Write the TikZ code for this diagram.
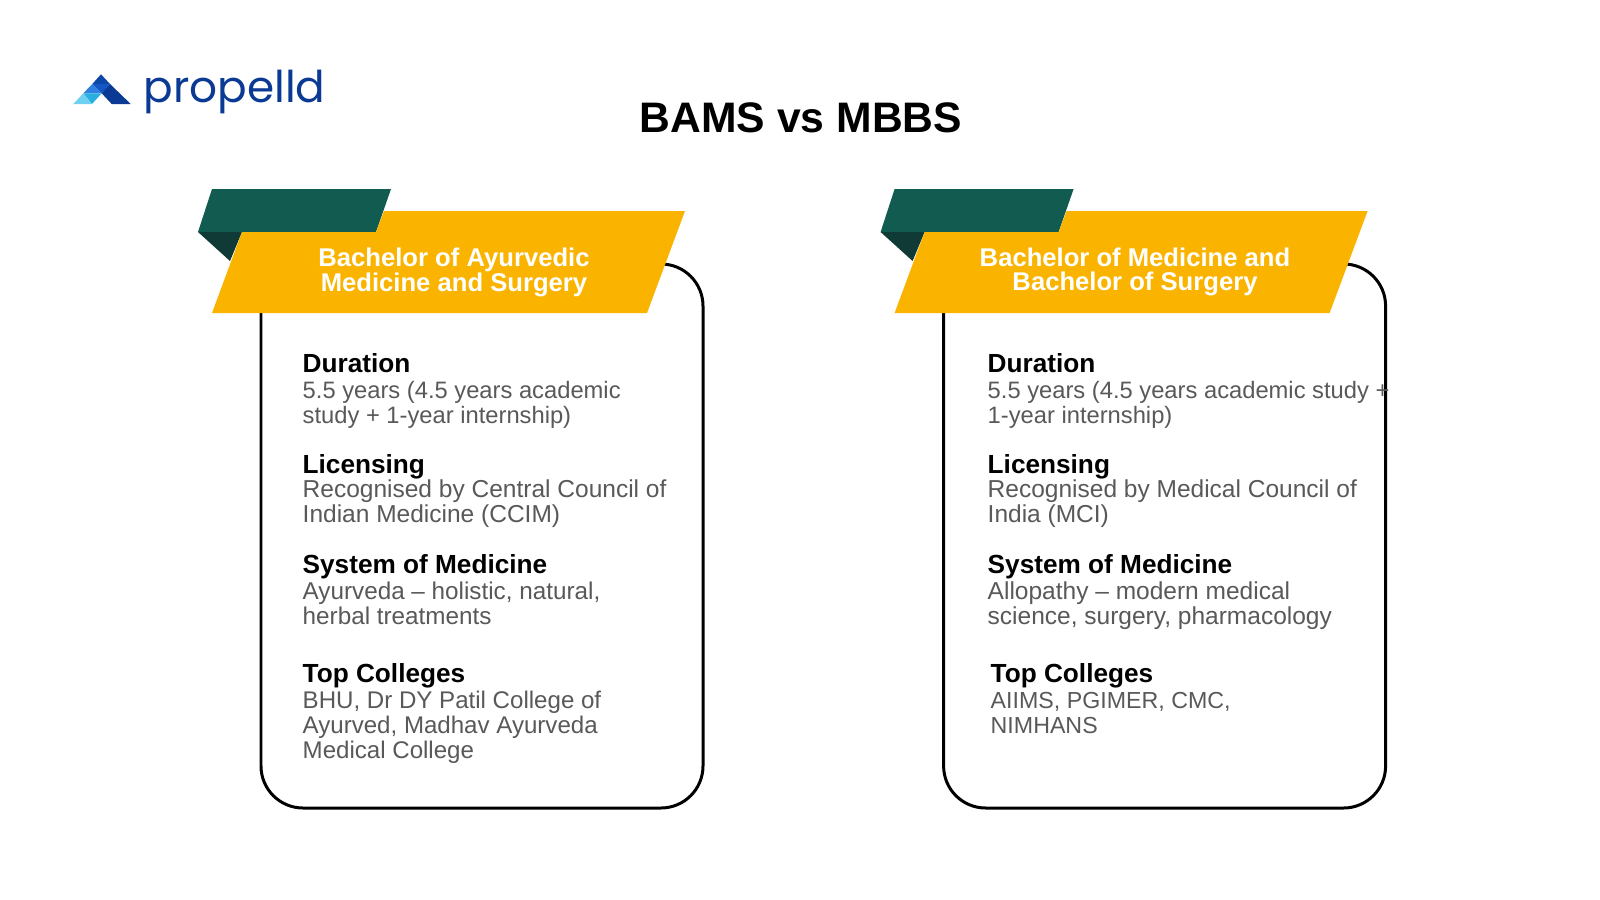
\documentclass[tikz,border=0pt]{standalone}
\usepackage{fontspec}
\setmainfont{Liberation Sans}
\newfontfamily\logofont{Poppins}
\definecolor{bannerYellow}{HTML}{FAB400}
\definecolor{bannerGreen}{HTML}{125B50}
\definecolor{foldGreen}{HTML}{0F3A35}
\definecolor{bodyGrey}{HTML}{595959}
\definecolor{logoBlue}{HTML}{0B3A94}
\definecolor{logoTop}{HTML}{0D47A8}
\definecolor{logoMid}{HTML}{1257C4}
\definecolor{logoBright}{HTML}{2F80E0}
\definecolor{logoCyan}{HTML}{28AEE0}
\definecolor{logoSky}{HTML}{6FD0F2}
\tikzset{
    card/.style={draw=black, line width=0.85pt, rounded corners=0.42cm},
    heading/.style={anchor=base west, inner sep=0pt, font=\bfseries\fontsize{7.45}{7.45}\selectfont},
    detail/.style={anchor=base west, inner sep=0pt, align=left, text=bodyGrey, font=\fontsize{#1}{7.05}\selectfont},
    detail/.default=6.97,
    banner/.style={inner sep=0pt, align=center, text=white, font=\bfseries\fontsize{7.29}{7.05}\selectfont},
}
\begin{document}
\begin{tikzpicture}[x=0.01cm, y=-0.01cm]
    \useasboundingbox (0, 0) rectangle (1600, 900);
    \fill[white] (0, 0) rectangle (1600, 900);
    % Logo
    \fill[logoTop] (101, 74.3) -- (110, 84) -- (92.3, 84) -- cycle;
    \fill[logoMid] (92.3, 84) -- (110, 84) -- (101.7, 93.3) -- cycle;
    \fill[logoBright] (92.3, 84) -- (101.7, 93.3) -- (83.3, 93.3) -- cycle;
    \fill[logoBlue] (110, 84) -- (130.7, 104) -- (111.7, 104) -- (101.7, 93.3) -- cycle;
    \fill[logoCyan] (83.3, 93.3) -- (101.7, 93.3) -- (92, 104) -- cycle;
    \fill[logoSky] (83.3, 93.3) -- (92, 104) -- (73.3, 104) -- cycle;
    \node[inner sep=0pt, anchor=base west, text=logoBlue, font=\logofont\fontsize{12.45}{12.45}\selectfont] (logoText) at (143, 102) {propelld};
    % Title
    \node[inner sep=0pt, font=\bfseries\fontsize{12.13}{12.13}\selectfont] (title) at (801, 118) {BAMS vs MBBS};
    % Cards and banners
    \foreach \x/\id in {0/Left, 682.6/Right} {
            \draw[card] (647+\x, 264) -- (703+\x, 264) -- (703+\x, 808) -- (261+\x, 808) -- (261+\x, 313);
            \fill[bannerGreen] (212+\x, 189) -- (391+\x, 189) -- (376+\x, 232) -- (198+\x, 232) -- cycle;
            \fill[foldGreen] (198+\x, 232) -- (242+\x, 232) -- (230+\x, 261) -- cycle;
            \fill[bannerYellow] (242+\x, 232) -- (376+\x, 232) -- (384+\x, 211) -- (685+\x, 211) -- (647+\x, 313) -- (212+\x, 313) -- cycle;
        }
    \node[banner] (bannerLeft) at (454, 272.5) {Bachelor of Ayurvedic\\Medicine and Surgery};
    \node[banner] (bannerRight) at (1135, 272) {Bachelor of Medicine and\\Bachelor of Surgery};
    % Left card
    \node[heading] (durationLeft) at (302, 372) {Duration};
    \node[detail=6.75] (durationTextLeft) at (302, 423) {5.5 years (4.5 years academic\\study + 1-year internship)};
    \node[heading] (licensingLeft) at (302, 473) {Licensing};
    \node[detail] (licensingTextLeft) at (302, 522) {Recognised by Central Council of\\Indian Medicine (CCIM)};
    \node[heading] (systemLeft) at (302, 573) {System of Medicine};
    \node[detail=6.9] (systemTextLeft) at (302, 624) {Ayurveda – holistic, natural,\\herbal treatments};
    \node[heading] (collegesLeft) at (302, 682) {Top Colleges};
    \node[detail=6.85] (collegesTextLeft) at (302, 758) {BHU, Dr DY Patil College of\\Ayurved, Madhav Ayurveda\\Medical College};
    % Right card
    \node[heading] (durationRight) at (987, 372) {Duration};
    \node[detail=6.75] (durationTextRight) at (987, 423) {5.5 years (4.5 years academic study +\\1-year internship)};
    \node[heading] (licensingRight) at (987, 473) {Licensing};
    \node[detail] (licensingTextRight) at (987, 522) {Recognised by Medical Council of\\India (MCI)};
    \node[heading] (systemRight) at (987, 573) {System of Medicine};
    \node[detail] (systemTextRight) at (987, 624) {Allopathy – modern medical\\science, surgery, pharmacology};
    \node[heading] (collegesRight) at (990, 682) {Top Colleges};
    \node[detail=6.6] (collegesTextRight) at (990, 733) {AIIMS, PGIMER, CMC,\\NIMHANS};
\end{tikzpicture}
\end{document}
